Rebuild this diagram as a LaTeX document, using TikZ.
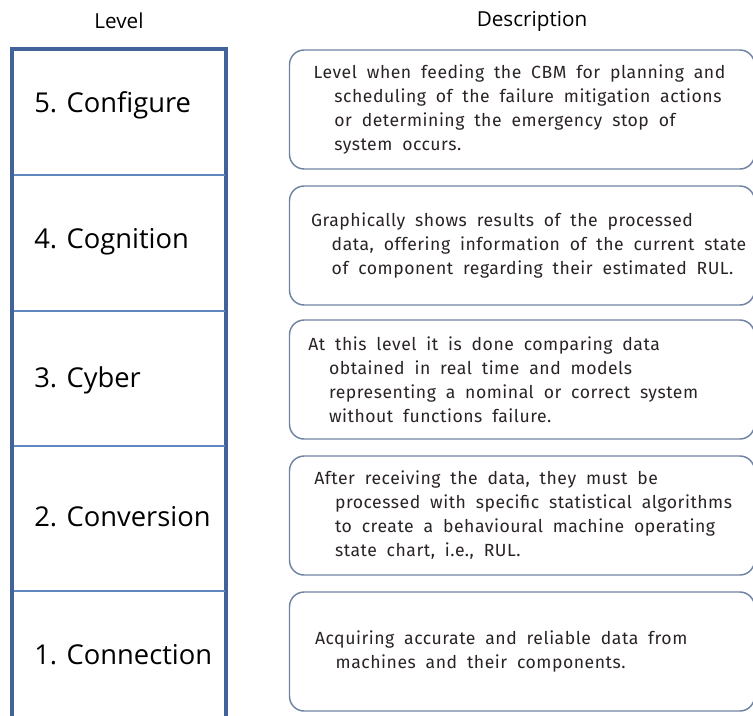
\documentclass[tikz,border=0pt]{standalone}
\usepackage{fontspec}
\setmainfont{Open Sans}
\newfontfamily\descfont[LetterSpace=3,WordSpace=1.9]{Fira Sans}
\usepackage{xcolor}
\usepackage{tikz}
\usetikzlibrary{positioning}
\definecolor{frameblue}{HTML}{41639A}
\definecolor{lineblue}{HTML}{5F87C0}
\definecolor{boxgray}{HTML}{6F83A3}
\definecolor{desctxt}{HTML}{2A2324}
\tikzset{
    frame/.style={draw=frameblue, line width=2.3pt},
    divider/.style={draw=lineblue, line width=1.6pt},
    levellabel/.style={anchor=west, inner sep=0pt, font=\fontsize{20.5}{24}\selectfont},
    heading/.style={inner sep=0pt, font=\fontsize{15.5}{18}\selectfont},
    desc/.style={draw=boxgray, line width=1.1pt, rectangle, rounded corners=11pt, minimum width=348.75pt, minimum height=89.25pt},
    desctext/.style={inner sep=0pt, align=left, text=desctxt, font=\descfont\fontsize{13.2}{18}\selectfont}
}
\newcommand{\ind}{\hspace*{15.5pt}}

\begin{document}
\begin{tikzpicture}[x=0.75pt, y=-0.75pt]
    \useasboundingbox (0,0) rectangle (753,715);

    % headings
    \node[heading] (hlevel) at (119,21) {Level};
    \node[heading] (hdesc) at (532,21) {Description};

    % level column
    \draw[frame] (12,730) -- (12,49) -- (226,49) -- (226,730);
    \foreach \y in {175,311,446,591} {
        \draw[divider] (13.5,\y) -- (224.5,\y);
    }
    \node[levellabel] (l5) at (34,105) {5. Configure};
    \node[levellabel] (l4) at (34,242) {4. Cognition};
    \node[levellabel] (l3) at (34,380) {3. Cyber};
    \node[levellabel] (l2) at (34,517) {2. Conversion};
    \node[levellabel] (l1) at (34,655) {1. Connection};

    % description boxes
    \node[desc] (d5) at (522,109.5) {};
    \node[desc] (d4) at (522,245.5) {};
    \node[desc] (d3) at (522,379.5) {};
    \node[desc] (d2) at (522,515.5) {};
    \node[desc] (d1) at (522,651.5) {};

    \node[desctext, right=18.5pt of d5.west] (t5) {Level when feeding the CBM for planning and\\
        \ind scheduling of the failure mitigation actions\\
        \ind or determining the emergency stop of\\
        \ind system occurs.};
    \node[desctext, right=16.5pt of d4.west] (t4) {Graphically shows results of the processed\\
        \ind data, offering information of the current state\\
        \ind of component regarding their estimated RUL.};
    \node[desctext, right=14.5pt of d3.west] (t3) {At this level it is done comparing data\\
        \ind obtained in real time and models\\
        \ind representing a nominal or correct system\\
        \ind without functions failure.};
    \node[desctext, right=19pt of d2.west] (t2) {After receiving the data, they must be\\
        \ind processed with specific statistical algorithms\\
        \ind to create a behavioural machine operating\\
        \ind state chart, i.e., RUL.};
    \node[desctext, right=19.5pt of d1.west] (t1) {Acquiring accurate and reliable data from\\
        \ind machines and their components.};
\end{tikzpicture}
\end{document}
